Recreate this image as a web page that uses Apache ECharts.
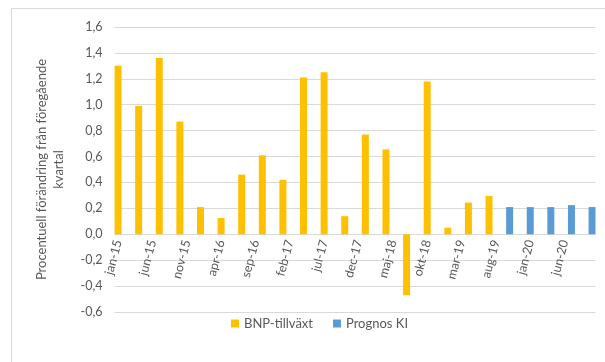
<!DOCTYPE html>
<html>
<head>
<meta charset="utf-8">
<script src="https://cdn.jsdelivr.net/npm/echarts@6/dist/echarts.min.js"></script>
<style>
  html, body { margin: 0; padding: 0; background: #fff; }
  #chart { width: 605px; height: 362px; }
</style>
</head>
<body>
<div id="chart"></div>
<script>
// month axis (swedish), jan-15 .. okt-20
const monthNames = ['jan', 'feb', 'mar', 'apr', 'maj', 'jun', 'jul', 'aug', 'sep', 'okt', 'nov', 'dec']
const years = ['15', '16', '17', '18', '19', '20']

// quarterly outcome
const bnpQuarters = ['jan-15', 'apr-15', 'jul-15', 'okt-15', 'jan-16', 'apr-16', 'jul-16', 'okt-16',
  'jan-17', 'apr-17', 'jul-17', 'okt-17', 'jan-18', 'apr-18', 'jul-18', 'okt-18', 'jan-19', 'apr-19', 'jul-19']
const bnpValues = [1.30, 0.99, 1.36, 0.87, 0.21, 0.125, 0.46, 0.61,
  0.42, 1.21, 1.25, 0.14, 0.77, 0.655, -0.47, 1.18, 0.05, 0.245, 0.295]

// forecast
const prognosQuarters = ['okt-19', 'jan-20', 'apr-20', 'jul-20', 'okt-20']
const prognosValues = [0.21, 0.21, 0.21, 0.225, 0.21]

const yTicks = [-0.6, -0.4, -0.2, 0.0, 0.2, 0.4, 0.6, 0.8, 1.0, 1.2, 1.4, 1.6]

const categories = []
years.forEach(y => monthNames.forEach(m => categories.push(m + '-' + y)))
categories.length = categories.indexOf('okt-20') + 1

function toMonthly(quarters, values) {
  return categories.map(c => {
    const i = quarters.indexOf(c)
    return i >= 0 ? values[i] : null
  })
}

const fontFamily = 'Lato, "Noto Sans", sans-serif'
const textColor = '#595959'

const gridTop = 27
const gridBottom = 50
const plotHeight = 362 - gridTop - gridBottom
const yMin = yTicks[0]
const yMax = yTicks[yTicks.length - 1]
// keep the category labels next to the zero line, like the original
const zeroOffset = -plotHeight * (0 - yMin) / (yMax - yMin)

const chart = echarts.init(document.getElementById('chart'))
chart.setOption({
  animation: false,
  textStyle: { fontFamily },
  graphic: [{
    type: 'rect',
    shape: { x: 11.5, y: 8.5, width: 620, height: 370 },
    style: { fill: 'none', stroke: '#d9d9d9', lineWidth: 1 },
    silent: true
  }],
  grid: { left: 114.6, right: 9.5, top: gridTop, bottom: gridBottom },
  legend: {
    top: 312,
    left: 226,
    icon: 'rect',
    itemWidth: 8,
    itemHeight: 8,
    itemGap: 20,
    textStyle: { color: textColor, fontSize: 13, fontFamily },
    data: ['BNP-tillväxt', 'Prognos KI']
  },
  xAxis: {
    type: 'category',
    data: categories,
    offset: zeroOffset,
    axisLine: { onZero: false, lineStyle: { color: '#d9d9d9' } },
    axisTick: { show: false },
    axisLabel: {
      interval: 4,
      rotate: 75,
      margin: 6,
      color: textColor,
      fontSize: 12.5,
      fontFamily
    }
  },
  yAxis: {
    type: 'value',
    min: yMin,
    max: yMax,
    interval: 0.2,
    name: 'Procentuell förändring från föregående\nkvartal',
    nameLocation: 'middle',
    nameGap: 47,
    nameTextStyle: { color: textColor, fontSize: 13, fontFamily, lineHeight: 17 },
    axisLine: { show: false },
    axisTick: { show: false },
    splitLine: { lineStyle: { color: '#d9d9d9' } },
    axisLabel: {
      color: textColor,
      fontSize: 12.5,
      margin: 12,
      formatter: v => v.toFixed(1).replace('.', ',')
    }
  },
  series: [
    {
      name: 'BNP-tillväxt',
      type: 'bar',
      barWidth: 7,
      barGap: '-100%',
      itemStyle: { color: '#FFC000' },
      data: toMonthly(bnpQuarters, bnpValues)
    },
    {
      name: 'Prognos KI',
      type: 'bar',
      barWidth: 7,
      barGap: '-100%',
      itemStyle: { color: '#5B9BD5' },
      data: toMonthly(prognosQuarters, prognosValues)
    }
  ]
})
</script>
</body>
</html>
